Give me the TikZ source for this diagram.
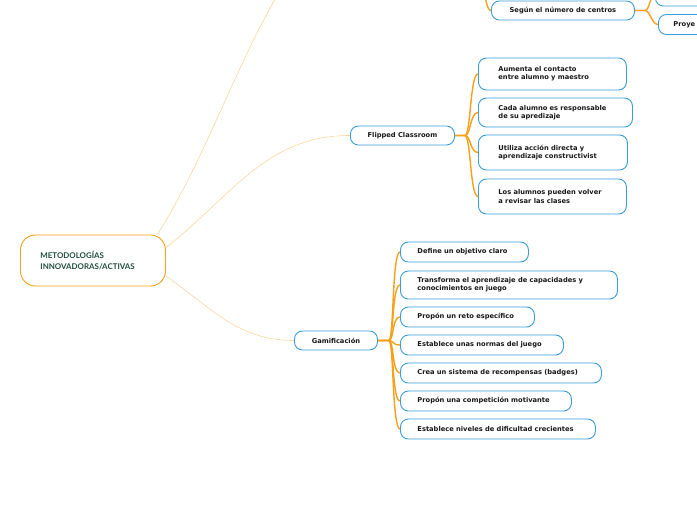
\documentclass[tikz,border=0pt]{standalone}
\usepackage{fontspec}
\setmainfont{DejaVu Sans}
\newfontfamily\rootfont{Lato}
\usetikzlibrary{backgrounds}
\definecolor{bc}{RGB}{59,157,219}
\definecolor{oc}{RGB}{248,160,26}
\definecolor{lo}{RGB}{253,214,158}
\definecolor{gc}{RGB}{31,78,61}
\tikzset{root/.style={draw=oc,fill=white,line width=.9pt,rounded corners=15pt,minimum width=145pt,minimum height=51pt,text width=105pt,inner xsep=20pt,inner ysep=0pt,align=left,anchor=west,text=gc,font=\rootfont\bfseries\fontsize{7.9}{11}\selectfont},
 topic/.style={draw=bc,fill=white,line width=.9pt,rounded corners=8pt,minimum height=19pt,inner sep=0pt,anchor=west,text=black!90,font=\bfseries\fontsize{6.7}{8.2}\selectfont},
 leaf/.style={topic,align=left,inner xsep=17pt,minimum height=20pt},
 wide/.style={leaf,inner xsep=20pt},
 twig/.style={draw=lo,line width=.6pt},
 branch/.style={draw=oc,line width=1.4pt}}

\begin{document}
\begin{tikzpicture}[x=1pt,y=-1pt]
\clip (0,0) rectangle (697,520);
\node[root] (root) at (20,260.5) {METODOLOGÍAS\\INNOVADORAS/ACTIVAS};
\node[topic,minimum width=104pt] (fc) at (350,135.5) {Flipped Classroom};
\node[topic,minimum width=83pt] (gam) at (294,340.5) {Gamificación};
\node[topic,minimum width=143pt] (sn) at (491,10.5) {Según el número de centros};
\node[leaf,text width=60pt,inner xsep=15pt] (p1) at (655,-4) {};
\node[leaf,text width=60pt,inner xsep=15pt] (p2) at (658,24.5) {Proye};
\coordinate (up) at (360,-100);
\coordinate (snup) at (476,-40);
% flipped classroom
\node[wide,text width=108pt,minimum height=32pt] (fc1) at (478,74) {Aumenta el contacto\\entre alumno y maestro};
\node[wide,text width=114pt,minimum height=29pt] (fc2) at (478,112.5) {Cada alumno es responsable\\de su apredizaje};
\node[wide,text width=109pt,minimum height=35pt] (fc3) at (478,152.5) {Utiliza acción directa y\\aprendizaje constructivist};
\node[wide,text width=108pt,minimum height=35pt] (fc4) at (478,196.5) {Los alumnos pueden volver\\a revisar las clases};
% gamificacion
\node[leaf,text width=94pt] (g1) at (400,252) {Define un objetivo claro};
\node[leaf,text width=183pt,minimum height=28pt] (g2) at (400,285) {Transforma el aprendizaje de capacidades y\\conocimientos en juego};
\node[leaf,text width=100pt] (g3) at (400,317) {Propón un reto específico};
\node[leaf,text width=129pt] (g4) at (400,345) {Establece unas normas del juego};
\node[leaf,text width=167pt] (g5) at (400,373) {Crea un sistema de recompensas (badges)};
\node[leaf,text width=137pt] (g6) at (400,401) {Propón una competición motivante};
\node[leaf,text width=161pt] (g7) at (400,429) {Establece niveles de dificultad crecientes};
\begin{scope}[on background layer]
\draw[twig] (root.22) .. controls (225,130) and (265,-40) .. (up);
\draw[twig] (root.10) to[out=38,in=180] (fc.west);
\draw[twig] (root.-12) to[out=-35,in=180] (gam.west);
\draw[branch] (snup) .. controls +(8,0) and +(-8,0) .. (sn.west);
\foreach \c in {fc1,fc2,fc3,fc4}{\draw[branch] (fc.east) -- ++(10,0) .. controls +(6,0) and +(-8,0) .. (\c.west);}
\foreach \c in {g1,g2,g3,g4,g5,g6,g7}{\draw[branch] (gam.east) -- ++(11,0) .. controls +(5,0) and +(-8,0) .. (\c.west);}
\foreach \c in {p1,p2}{\draw[branch] (sn.east) -- ++(10,0) .. controls +(5,0) and +(-6,0) .. (\c.west);}
\end{scope}
\end{tikzpicture}
\end{document}
